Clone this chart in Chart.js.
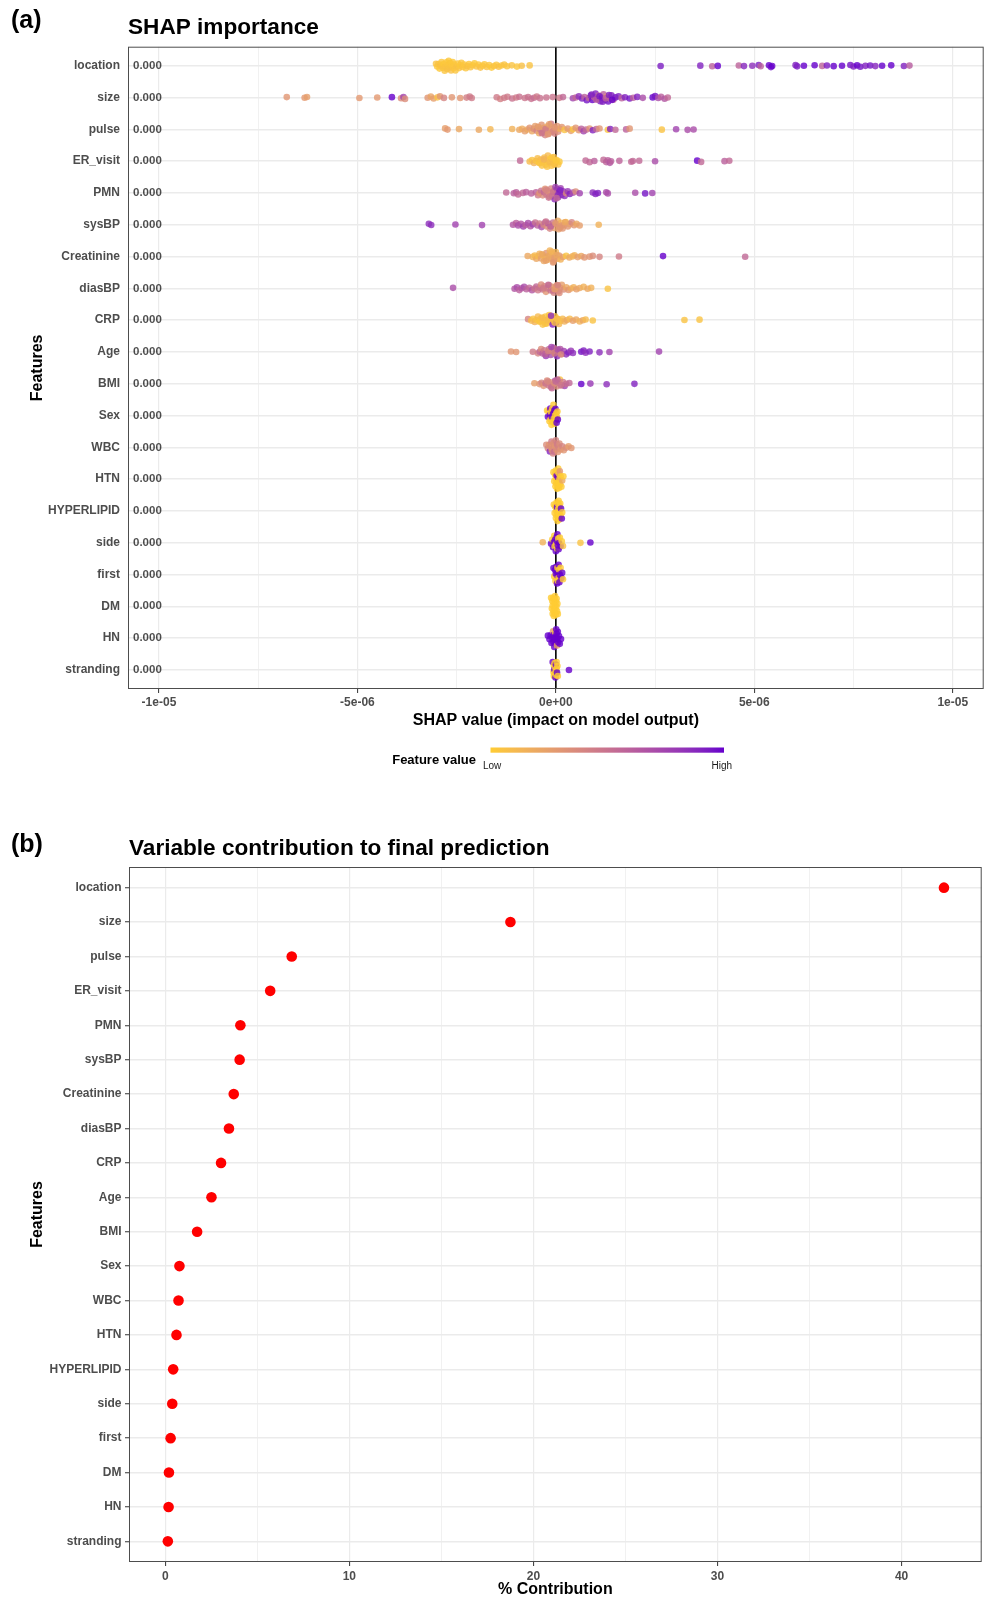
<!DOCTYPE html>
<html>
<head>
<meta charset="utf-8">
<title>SHAP importance and variable contribution</title>
<script src="https://cdn.jsdelivr.net/npm/chart.js@4.4.1/dist/chart.umd.min.js"></script>
<style>
  html, body { margin: 0; padding: 0; background: #fff; }
  body { width: 987px; height: 1599px; position: relative; overflow: hidden; }
  canvas { position: absolute; left: 0; }
  #shapChart { top: 0; }
  #contribChart { top: 790px; }
</style>
</head>
<body>
<canvas id="shapChart" width="987" height="790"></canvas>
<canvas id="contribChart" width="987" height="809"></canvas>
<script>
// features, top to bottom
var features = ['location', 'size', 'pulse', 'ER_visit', 'PMN', 'sysBP', 'Creatinine', 'diasBP', 'CRP', 'Age',
    'BMI', 'Sex', 'WBC', 'HTN', 'HYPERLIPID', 'side', 'first', 'DM', 'HN', 'stranding'];
var meanShapLabels = ['0.000', '0.000', '0.000', '0.000', '0.000', '0.000', '0.000', '0.000', '0.000', '0.000',
    '0.000', '0.000', '0.000', '0.000', '0.000', '0.000', '0.000', '0.000', '0.000', '0.000'];

// SHAP points per feature: [shap value in units of 1e-6, scaled feature value 0 = low .. 1 = high]
var pts_location = [[-3.02,0.05],[-2.99,0.03],[-2.96,0.05],[-2.93,0.02],[-2.9,0.06],[-2.88,0.03],[-2.85,0.05],[-2.83,0.02],
    [-2.8,0.04],[-2.78,0.05],[-2.76,0.03],[-2.74,0.06],[-2.72,0.04],[-2.7,0.02],[-2.68,0.05],[-2.66,0.03],[-2.64,0.06],
    [-2.62,0.04],[-2.6,0.02],[-2.58,0.05],[-2.56,0.03],[-2.53,0.04],[-2.5,0.06],[-2.47,0.03],[-2.44,0.05],[-2.41,0.02],
    [-2.38,0.04],[-2.35,0.05],[-2.31,0.03],[-2.27,0.04],[-2.23,0.06],[-2.19,0.03],[-2.15,0.05],[-2.1,0.04],[-2.05,0.02],
    [-2.0,0.05],[-1.95,0.03],[-1.9,0.06],[-1.85,0.04],[-1.8,0.03],[-1.74,0.05],[-1.68,0.04],[-1.62,0.02],[-1.56,0.05],
    [-1.5,0.03],[-1.44,0.06],[-1.37,0.04],[-1.3,0.05],[-1.23,0.04],[-1.11,0.05],[-0.98,0.03],[-0.86,0.06],[-0.66,0.05],
    [2.64,0.92],[3.64,0.9],[3.94,0.6],[4.08,1.0],[4.61,0.58],[4.74,0.88],[4.95,0.85],[5.11,0.92],[5.16,0.6],[5.37,1.0],
    [5.42,0.97],[5.45,1.0],[6.04,0.9],[6.08,0.92],[6.25,1.0],[6.52,1.0],[6.71,0.58],[6.83,0.92],[7.0,1.0],[7.21,1.0],
    [7.42,0.95],[7.5,0.9],[7.59,1.0],[7.67,0.95],[7.8,0.9],[7.92,0.95],[8.05,0.88],[8.22,1.0],[8.45,1.0],[8.77,0.9],[8.91,0.62]];
var pts_size = [[-6.78,0.3],[-6.33,0.28],[-6.27,0.25],[-4.95,0.28],[-4.5,0.28],[-4.13,1.0],[-3.9,0.35],[-3.84,0.75],
    [-3.8,0.35],[-3.23,0.3],[-3.15,0.22],[-3.08,0.25],[-2.98,0.05],[-2.92,0.3],[-2.82,0.4],[-2.62,0.3],[-2.41,0.3],
    [-2.25,0.42],[-2.17,0.45],[-2.12,0.45],[-1.49,0.45],[-1.4,0.42],[-1.3,0.45],[-1.22,0.45],[-1.1,0.5],[-1.0,0.45],
    [-0.92,0.5],[-0.78,0.48],[-0.7,0.5],[-0.62,0.5],[-0.55,0.52],[-0.48,0.45],[-0.4,0.5],[-0.24,0.5],[-0.08,0.48],
    [0.09,0.45],[0.18,0.55],[0.43,0.75],[0.5,0.55],[0.58,0.85],[0.66,0.9],[0.72,0.6],[0.78,0.95],[0.83,0.55],[0.88,0.9],
    [0.92,1.0],[0.96,0.6],[1.0,0.9],[1.04,0.95],[1.08,0.55],[1.12,0.9],[1.16,1.0],[1.2,0.6],[1.24,0.9],[1.28,0.3],
    [1.32,0.95],[1.36,0.6],[1.4,0.9],[1.45,0.55],[1.5,0.95],[1.58,0.9],[1.66,0.6],[1.74,0.9],[1.86,0.95],[1.95,0.6],
    [2.05,0.9],[2.19,0.7],[2.44,1.0],[2.5,0.95],[2.58,0.7],[2.65,0.6],[2.74,0.65],[2.82,0.55],
    [0.9,0.9],[1.02,0.6],[1.1,0.95],[1.18,0.9],[1.26,0.6],[1.34,0.9],[1.42,1.0]];
var pts_pulse = [[-2.79,0.25],[-2.73,0.28],[-2.44,0.2],[-1.94,0.2],[-1.65,0.12],[-1.1,0.15],[-0.92,0.2],[-0.85,0.18],
    [-0.78,0.25],[-0.72,0.2],[-0.66,0.3],[-0.6,0.2],[-0.56,0.35],[-0.52,0.25],[-0.48,0.4],[-0.45,0.3],[-0.42,0.2],
    [-0.39,0.45],[-0.36,0.3],[-0.33,0.35],[-0.3,0.25],[-0.27,0.4],[-0.24,0.3],[-0.21,0.2],[-0.18,0.35],[-0.15,0.3],
    [-0.12,0.45],[-0.09,0.25],[-0.06,0.3],[-0.03,0.4],[0.0,0.2],[0.03,0.3],[0.06,0.35],[0.1,0.15],[0.15,0.3],[0.22,0.05],
    [0.3,0.3],[0.38,0.25],[0.43,0.05],[0.5,0.3],[0.58,0.3],[0.64,0.6],[0.7,0.75],[0.76,0.55],[0.85,0.3],[0.93,0.9],
    [1.02,0.55],[1.1,0.3],[1.31,0.05],[1.37,0.9],[1.5,0.55],[1.77,0.6],[1.86,0.3],[2.67,0.05],[3.03,0.75],[3.32,0.7],[3.47,0.7],
    [-0.44,0.25],[-0.35,0.5],[-0.26,0.45],[-0.17,0.25],[-0.08,0.4],[-0.02,0.3],[-0.2,0.3]];
var pts_ER_visit = [[-0.9,0.55],[-0.66,0.1],[-0.6,0.05],[-0.55,0.15],[-0.5,0.05],[-0.46,0.08],[-0.42,0.02],[-0.38,0.1],
    [-0.35,0.05],[-0.32,0.03],[-0.29,0.08],[-0.26,0.05],[-0.23,0.02],[-0.2,0.1],[-0.17,0.05],[-0.14,0.03],[-0.11,0.06],
    [-0.08,0.02],[-0.05,0.08],[-0.02,0.05],[0.02,0.03],[0.06,0.06],[0.09,0.02],[0.75,0.55],[0.85,0.55],[0.97,0.6],
    [1.2,0.55],[1.27,0.58],[1.31,0.6],[1.36,0.65],[1.39,0.6],[1.6,0.58],[1.9,0.55],[1.94,0.55],[2.1,0.55],[2.5,0.7],
    [3.56,1.0],[3.66,0.55],[4.25,0.6],[4.37,0.55],
    [-0.4,0.05],[-0.3,0.15],[-0.22,0.05],[-0.15,0.1],[-0.1,0.04],[-0.04,0.06],[0.0,0.03]];
var pts_PMN = [[-1.25,0.55],[-1.06,0.6],[-1.0,0.6],[-0.95,0.55],[-0.83,0.55],[-0.75,0.6],[-0.62,0.6],[-0.5,0.6],
    [-0.45,0.45],[-0.41,0.3],[-0.37,0.5],[-0.33,0.35],[-0.3,0.55],[-0.27,0.3],[-0.24,0.45],[-0.21,0.35],[-0.18,0.5],
    [-0.15,0.3],[-0.12,0.4],[-0.09,0.6],[-0.06,0.35],[-0.03,0.85],[0.0,0.45],[0.03,0.9],[0.06,0.8],[0.09,0.95],
    [0.12,0.75],[0.15,0.9],[0.18,0.8],[0.22,0.85],[0.26,0.35],[0.3,0.8],[0.35,0.9],[0.43,0.7],[0.5,0.35],[0.6,0.75],
    [0.93,0.85],[1.0,0.9],[1.06,0.9],[1.27,0.7],[1.31,0.7],[2.0,0.7],[2.25,0.95],[2.43,0.75],
    [-0.25,0.4],[-0.16,0.45],[-0.07,0.5],[-0.01,0.75],[0.05,0.85],[0.11,0.9],[0.02,0.55]];
var pts_sysBP = [[-3.2,0.85],[-3.14,0.85],[-2.53,0.75],[-1.86,0.75],[-1.08,0.65],[-1.0,0.6],[-0.95,0.7],[-0.88,0.65],
    [-0.82,0.75],[-0.76,0.6],[-0.7,0.7],[-0.64,0.65],[-0.58,0.75],[-0.52,0.5],[-0.46,0.6],[-0.41,0.45],[-0.36,0.7],
    [-0.31,0.4],[-0.27,0.55],[-0.23,0.35],[-0.19,0.65],[-0.15,0.4],[-0.11,0.3],[-0.07,0.5],[-0.03,0.25],[0.01,0.3],
    [0.05,0.2],[0.09,0.35],[0.13,0.15],[0.17,0.3],[0.21,0.25],[0.25,0.1],[0.3,0.3],[0.35,0.25],[0.4,0.4],[0.46,0.3],
    [0.52,0.2],[0.6,0.25],[1.08,0.15],
    [-0.25,0.5],[-0.13,0.6],[-0.01,0.3],[0.07,0.25],[0.15,0.3],[0.23,0.2],[0.11,0.3]];
var pts_Creatinine = [[-0.71,0.2],[-0.58,0.15],[-0.53,0.1],[-0.49,0.2],[-0.45,0.1],[-0.41,0.15],[-0.37,0.25],[-0.33,0.1],
    [-0.3,0.2],[-0.27,0.15],[-0.24,0.3],[-0.21,0.1],[-0.18,0.2],[-0.15,0.15],[-0.12,0.25],[-0.09,0.1],[-0.06,0.2],
    [-0.03,0.3],[0.0,0.15],[0.04,0.2],[0.08,0.3],[0.12,0.15],[0.18,0.25],[0.26,0.05],[0.34,0.2],[0.42,0.15],[0.47,0.15],
    [0.55,0.25],[0.64,0.2],[0.72,0.3],[0.85,0.3],[0.93,0.35],[1.1,0.4],[1.59,0.45],[2.7,1.0],[4.77,0.55],
    [-0.35,0.2],[-0.25,0.25],[-0.16,0.2],[-0.1,0.15],[-0.04,0.25],[0.02,0.2],[-0.07,0.3]];
var pts_diasBP = [[-2.59,0.7],[-1.04,0.65],[-0.98,0.7],[-0.92,0.6],[-0.86,0.65],[-0.8,0.7],[-0.74,0.6],[-0.67,0.55],
    [-0.6,0.65],[-0.54,0.5],[-0.49,0.55],[-0.45,0.45],[-0.41,0.5],[-0.37,0.35],[-0.33,0.5],[-0.29,0.4],[-0.25,0.3],
    [-0.21,0.45],[-0.17,0.35],[-0.13,0.5],[-0.09,0.3],[-0.05,0.4],[-0.01,0.35],[0.03,0.3],[0.07,0.45],[0.11,0.3],
    [0.15,0.25],[0.2,0.35],[0.26,0.2],[0.32,0.3],[0.38,0.2],[0.45,0.15],[0.52,0.25],[0.6,0.2],[0.7,0.15],[0.8,0.2],
    [0.89,0.15],[1.31,0.05],
    [-0.31,0.45],[-0.19,0.55],[-0.07,0.5],[0.01,0.3],[0.09,0.35],[-0.03,0.25],[0.05,0.4]];
var pts_CRP = [[-0.7,0.4],[-0.62,0.1],[-0.57,0.05],[-0.53,0.15],[-0.49,0.05],[-0.45,0.1],[-0.41,0.02],[-0.37,0.08],
    [-0.33,0.05],[-0.29,0.12],[-0.26,0.03],[-0.23,0.06],[-0.2,0.1],[-0.17,0.04],[-0.14,0.08],[-0.11,0.05],[-0.08,0.9],
    [-0.05,0.1],[-0.02,0.05],[0.01,0.95],[0.04,0.08],[0.08,0.12],[0.12,0.05],[0.17,0.1],[0.22,0.15],[0.28,0.2],[0.35,0.1],
    [0.43,0.25],[0.51,0.2],[0.6,0.15],[0.68,0.2],[0.75,0.1],[0.93,0.05],[3.24,0.05],[3.62,0.05],
    [-0.4,0.05],[-0.34,0.1],[-0.27,0.05],[-0.21,0.08],[-0.12,0.85],[-0.03,0.05],[0.03,0.08]];
var pts_Age = [[-1.13,0.3],[-1.0,0.3],[-0.58,0.45],[-0.45,0.4],[-0.41,0.55],[-0.37,0.35],[-0.33,0.6],[-0.29,0.45],
    [-0.25,0.8],[-0.21,0.35],[-0.17,0.55],[-0.13,0.7],[-0.09,0.4],[-0.05,0.6],[-0.02,0.05],[-0.01,0.3],[0.03,0.85],
    [0.07,0.5],[0.11,0.65],[0.15,0.3],[0.2,0.75],[0.26,0.85],[0.32,0.9],[0.38,0.8],[0.43,0.85],[0.64,0.95],[0.7,0.9],
    [0.75,0.85],[0.85,0.9],[1.1,0.85],[1.35,0.75],[2.6,0.75],
    [-0.27,0.6],[-0.19,0.4],[-0.11,0.75],[-0.03,0.5],[0.05,0.7],[0.13,0.4]];
var pts_BMI = [[-0.54,0.25],[-0.41,0.3],[-0.36,0.4],[-0.31,0.3],[-0.26,0.5],[-0.22,0.35],[-0.18,0.45],[-0.14,0.3],
    [-0.1,0.55],[-0.06,0.4],[-0.02,0.65],[0.02,0.35],[0.06,0.5],[0.1,0.05],[0.14,0.6],[0.18,0.45],[0.22,0.75],[0.26,0.5],
    [0.34,0.55],[0.64,1.0],[0.87,0.8],[1.28,0.85],[1.98,0.9],
    [-0.2,0.4],[-0.12,0.5],[-0.04,0.35],[0.04,0.6],[0.12,0.45],[0.0,0.55]];
var pts_Sex = [[-0.22,0],[-0.2,1],[-0.18,0],[-0.16,0],[-0.15,1],[-0.14,1],[-0.13,0],[-0.12,0],[-0.11,0],[-0.1,1],
    [-0.09,0],[-0.08,0],[-0.07,1],[-0.06,0],[-0.05,0],[-0.04,1],[-0.03,0],[-0.02,0],[-0.01,1],[0.0,0],[0.01,0],[0.02,1],
    [0.03,0],[0.04,0],[0.05,1]];
var pts_WBC = [[-0.24,0.35],[-0.2,0.4],[-0.17,0.3],[-0.15,0.9],[-0.13,0.35],[-0.11,0.45],[-0.1,0.3],[-0.09,0.3],
    [-0.07,0.4],[-0.06,0.35],[-0.05,0.35],[-0.04,0.5],[-0.02,0.3],[0.0,0.4],[0.01,0.35],[0.03,0.45],[0.05,0.3],[0.07,0.4],
    [0.09,0.35],[0.12,0.3],[0.16,0.4],[0.2,0.3],[0.26,0.35],[0.32,0.25],[0.39,0.3]];
var pts_HTN = [[-0.06,0],[-0.04,0],[-0.02,0],[-0.01,0],[0.0,0],[0.0,0],[0.01,0],[0.02,1],[0.03,0],[0.03,0],[0.04,0],
    [0.05,0],[0.05,1],[0.06,0],[0.07,0],[0.08,0],[0.08,0],[0.09,0],[0.1,0.3],[0.11,0],[0.12,0],[0.14,0],[0.16,0.2],[0.19,0]];
var pts_HYPERLIPID = [[-0.05,0],[-0.03,0],[-0.02,0],[0.0,0],[0.01,0],[0.02,0],[0.02,0],[0.03,1],[0.04,0],[0.04,0],
    [0.05,0],[0.06,0],[0.06,0],[0.07,0],[0.08,0],[0.09,0],[0.09,0],[0.1,0],[0.11,0],[0.12,0],[0.13,1],[0.15,1],[0.16,0]];
var pts_side = [[-0.33,0.15],[-0.12,1],[-0.09,0],[-0.07,1],[-0.05,1],[-0.04,0],[-0.03,0],[-0.02,1],[0.0,1],[0.01,0],
    [0.02,1],[0.03,0],[0.03,1],[0.04,1],[0.05,1],[0.06,0],[0.07,1],[0.08,1],[0.1,0],[0.12,1],[0.15,0],[0.18,0.05],
    [0.62,0.05],[0.87,1]];
var pts_first = [[-0.06,1],[-0.04,0],[-0.02,1],[-0.01,0],[0.0,1],[0.01,1],[0.02,0],[0.02,1],[0.03,1],[0.04,1],[0.04,0],
    [0.05,0],[0.06,1],[0.07,1],[0.07,0],[0.08,0],[0.09,1],[0.1,1],[0.12,0],[0.14,1],[0.16,1],[0.18,0]];
var pts_DM = [[-0.12,0],[-0.1,0],[-0.09,0],[-0.08,0],[-0.08,0],[-0.07,0],[-0.06,0],[-0.06,0],[-0.05,0],[-0.04,0],
    [-0.04,0],[-0.03,0],[-0.02,0],[-0.02,0],[-0.01,0],[0.0,0],[0.0,0],[0.01,0],[0.02,0],[0.03,0],[0.04,0],[0.05,0]];
var pts_HN = [[-0.2,1],[-0.16,1],[-0.13,1],[-0.11,1],[-0.09,1],[-0.07,0.3],[-0.06,1],[-0.05,1],[-0.04,1],[-0.03,1],
    [-0.02,0.05],[-0.01,1],[0.0,1],[0.01,1],[0.02,1],[0.02,1],[0.03,0.2],[0.04,1],[0.05,1],[0.06,1],[0.08,1],[0.1,1],[0.13,1]];
var pts_stranding = [[-0.08,1],[-0.06,0],[-0.05,0],[-0.05,0],[-0.04,1],[-0.03,0],[-0.03,0],[-0.02,0],[-0.01,1],[0.0,0],
    [0.0,1],[0.01,0],[0.02,0],[0.02,0],[0.03,1],[0.04,0],[0.05,0],[0.33,1]];

var shapRows = [pts_location, pts_size, pts_pulse, pts_ER_visit, pts_PMN, pts_sysBP, pts_Creatinine, pts_diasBP,
    pts_CRP, pts_Age, pts_BMI, pts_Sex, pts_WBC, pts_HTN, pts_HYPERLIPID, pts_side, pts_first, pts_DM, pts_HN, pts_stranding];

// x axis of panel (a), same 1e-6 units
var shapGrid = [-10, -7.5, -5, -2.5, 0, 2.5, 5, 7.5, 10];
var shapTicks = [-10, -5, 0, 5, 10];
var shapTickLabels = ['-1e-05', '-5e-06', '0e+00', '5e-06', '1e-05'];

// panel (b): % contribution, same feature order
var contribution = [42.3, 18.75, 6.87, 5.7, 4.08, 4.04, 3.72, 3.46, 3.03, 2.51, 1.73, 0.77, 0.72, 0.61, 0.43, 0.38, 0.29, 0.2, 0.18, 0.14];
var contribGrid = [0, 5, 10, 15, 20, 25, 30, 35, 40];
var contribTicks = [0, 10, 20, 30, 40];

var FONT = '"Liberation Sans", Arial, Helvetica, sans-serif';
Chart.defaults.font.family = FONT;

/* colour ramp low -> high, interpolated in CIELAB like ggplot's gradient */
function toLinear(c){ c /= 255; return c <= 0.04045 ? c / 12.92 : Math.pow((c + 0.055) / 1.055, 2.4); }
function fromLinear(c){ var v = c <= 0.0031308 ? 12.92 * c : 1.055 * Math.pow(c, 1 / 2.4) - 0.055; return Math.round(Math.max(0, Math.min(1, v)) * 255); }
function rgbToLab(rgb){
    var R = toLinear(rgb[0]), G = toLinear(rgb[1]), B = toLinear(rgb[2]);
    var x = (R * 0.4124 + G * 0.3576 + B * 0.1805) / 0.95047;
    var y = R * 0.2126 + G * 0.7152 + B * 0.0722;
    var z = (R * 0.0193 + G * 0.1192 + B * 0.9505) / 1.08883;
    var f = function(t){ return t > 0.008856 ? Math.cbrt(t) : 7.787 * t + 16 / 116; };
    return [116 * f(y) - 16, 500 * (f(x) - f(y)), 200 * (f(y) - f(z))];
}
function labToRgb(lab){
    var fy = (lab[0] + 16) / 116, fx = fy + lab[1] / 500, fz = fy - lab[2] / 200;
    var inv = function(t){ return t * t * t > 0.008856 ? t * t * t : (t - 16 / 116) / 7.787; };
    var x = inv(fx) * 0.95047, y = inv(fy), z = inv(fz) * 1.08883;
    return [fromLinear(3.2406 * x - 1.5372 * y - 0.4986 * z),
            fromLinear(-0.9689 * x + 1.8758 * y + 0.0415 * z),
            fromLinear(0.0557 * x - 0.2040 * y + 1.0570 * z)];
}
var labLow = rgbToLab([255, 204, 51]);   // #FFCC33
var labHigh = rgbToLab([102, 0, 204]);   // #6600CC
function featureColour(t, alpha){
    var lab = [0, 1, 2].map(function(k){ return labLow[k] + (labHigh[k] - labLow[k]) * t; });
    var c = labToRgb(lab);
    return 'rgba(' + c[0] + ',' + c[1] + ',' + c[2] + ',' + alpha + ')';
}

// sina style spread: how far a point may leave its row depends on how crowded its neighbourhood is
function sinaLayout(rows){
    var counts = rows.map(function(pts){
        return pts.map(function(p){ return pts.filter(function(q){ return Math.abs(q[0] - p[0]) <= 0.12; }).length; });
    });
    var maxCount = Math.max.apply(null, counts.map(function(c){ return Math.max.apply(null, c); }));
    var out = [];
    rows.forEach(function(pts, r){
        pts.forEach(function(p, j){
            var half = 0.36 * counts[r][j] / maxCount;
            var spread = ((j * 0.6180339887) % 1) * 2 - 1;
            out.push({x: p[0], y: r + half * spread, c: p[1]});
        });
    });
    return out;
}

// "(a)" / "(b)" tags and the panel titles
var panelText = {
    id: 'panelText',
    afterDraw: function(chart, args, opts){
        var ctx = chart.ctx;
        ctx.save();
        ctx.fillStyle = '#000';
        ctx.textBaseline = 'alphabetic';
        ctx.textAlign = 'left';
        ctx.font = 'bold 25px ' + FONT;
        ctx.fillText(opts.tag, 11, opts.tagY);
        ctx.font = 'bold 22.6px ' + FONT;
        ctx.fillText(opts.title, chart.chartArea.left, opts.titleY);
        ctx.restore();
    }
};

// full panel border (theme_bw)
var panelBorder = {
    id: 'panelBorder',
    afterDatasetsDraw: function(chart){
        var a = chart.chartArea, ctx = chart.ctx;
        ctx.save();
        ctx.strokeStyle = '#4d4d4d';
        ctx.lineWidth = 1;
        ctx.strokeRect(a.left + 0.5, a.top + 0.5, a.right - a.left - 1, a.bottom - a.top - 1);
        ctx.restore();
    }
};

var meanLabelsPlugin = {
    id: 'meanLabels',
    afterDatasetsDraw: function(chart){
        var ctx = chart.ctx, y = chart.scales.y;
        ctx.save();
        ctx.font = 'bold 11.5px ' + FONT;
        ctx.fillStyle = 'rgba(0,0,0,0.7)';
        ctx.textAlign = 'left';
        ctx.textBaseline = 'middle';
        meanShapLabels.forEach(function(t, i){
            ctx.fillText(t, chart.chartArea.left + 5, y.getPixelForValue(i));
        });
        ctx.restore();
    }
};

var colourLegend = {
    id: 'colourLegend',
    afterDraw: function(chart){
        var ctx = chart.ctx;
        var x0 = 490.5, x1 = 724, top = 747.5, h = 5.2;
        ctx.save();
        var g = ctx.createLinearGradient(x0, 0, x1, 0);
        for (var k = 0; k <= 20; k++) g.addColorStop(k / 20, featureColour(k / 20, 1));
        ctx.fillStyle = g;
        ctx.fillRect(x0, top, x1 - x0, h);
        ctx.fillStyle = '#000';
        ctx.font = 'bold 13px ' + FONT;
        ctx.textAlign = 'right';
        ctx.textBaseline = 'middle';
        ctx.fillText('Feature value', 476, 760);
        ctx.font = '10px ' + FONT;
        ctx.fillStyle = '#1a1a1a';
        ctx.textAlign = 'left';
        ctx.fillText('Low', 483, 766);
        ctx.textAlign = 'right';
        ctx.fillText('High', 732, 766);
        ctx.restore();
    }
};

Chart.register(panelText, panelBorder);

var axisTitleFont = {size: 16, weight: 'bold'};
var tickFont = {size: 12, weight: 'bold'};

/* panel (a): SHAP summary */
var shapCanvas = document.getElementById('shapChart');
if (shapCanvas) {
    new Chart(shapCanvas, {
        type: 'scatter',
        data: {
            datasets: [{
                data: sinaLayout(shapRows),
                backgroundColor: function(ctx){ return featureColour(ctx.raw ? ctx.raw.c : 0, 0.8); },
                pointRadius: 3.3,
                pointHoverRadius: 3.3,
                borderWidth: 0,
                order: 1
            }, {
                data: [{x: 0, y: -0.6}, {x: 0, y: 19.6}],
                showLine: true,
                borderColor: '#000',
                borderWidth: 1.6,
                pointRadius: 0,
                order: 2
            }]
        },
        options: {
            responsive: false,
            animation: false,
            devicePixelRatio: 1,
            layout: {padding: {top: 46.7, right: 2, bottom: 56, left: 0}},
            plugins: {
                legend: {display: false},
                tooltip: {enabled: false},
                panelText: {tag: '(a)', tagY: 28, title: 'SHAP importance', titleY: 33.5}
            },
            scales: {
                x: {
                    type: 'linear', min: -10.78, max: 10.78,
                    afterBuildTicks: function(s){ s.ticks = shapGrid.map(function(v){ return {value: v}; }); },
                    afterFit: function(s){ s.height = 45; },
                    grid: {
                        color: '#ebebeb',
                        lineWidth: function(c){ return shapTicks.indexOf(c.tick.value) >= 0 ? 1.2 : 0.7; },
                        drawTicks: true, tickLength: 4, tickWidth: 1,
                        tickColor: function(c){ return shapTicks.indexOf(c.tick.value) >= 0 ? '#333' : 'rgba(0,0,0,0)'; }
                    },
                    border: {display: false},
                    ticks: {
                        autoSkip: false, maxRotation: 0, padding: 2, color: '#4d4d4d', font: tickFont,
                        callback: function(v){ var i = shapTicks.indexOf(v); return i >= 0 ? shapTickLabels[i] : ''; }
                    },
                    title: {display: true, text: 'SHAP value (impact on model output)', color: '#000', font: axisTitleFont, padding: {top: 0, bottom: 4}}
                },
                y: {
                    type: 'linear', reverse: true, min: -0.6, max: 19.6,
                    afterBuildTicks: function(s){ s.ticks = features.map(function(f, i){ return {value: i}; }); },
                    afterFit: function(s){ s.width = 128; },
                    grid: {color: '#ebebeb', lineWidth: 1.5, drawTicks: false},
                    border: {display: false},
                    ticks: {
                        autoSkip: false, padding: 8, color: '#4d4d4d', font: tickFont,
                        callback: function(v){ return features[v]; }
                    },
                    title: {display: true, text: 'Features', color: '#000', font: axisTitleFont, padding: {top: 28, bottom: 0}}
                }
            }
        },
        plugins: [meanLabelsPlugin, colourLegend]
    });
}

/* panel (b): % contribution */
var contribCanvas = document.getElementById('contribChart');
if (contribCanvas) {
    new Chart(contribCanvas, {
        type: 'scatter',
        data: {
            datasets: [{
                data: features.map(function(f, i){ return {x: contribution[i], y: i}; }),
                backgroundColor: '#ff0000',
                pointRadius: 5.3,
                pointHoverRadius: 5.3,
                borderWidth: 0
            }]
        },
        options: {
            responsive: false,
            animation: false,
            devicePixelRatio: 1,
            layout: {padding: {top: 77, right: 2, bottom: 0, left: 0}},
            plugins: {
                legend: {display: false},
                tooltip: {enabled: false},
                panelText: {tag: '(b)', tagY: 62, title: 'Variable contribution to final prediction', titleY: 65}
            },
            scales: {
                x: {
                    type: 'linear', min: -1.97, max: 44.35,
                    afterBuildTicks: function(s){ s.ticks = contribGrid.map(function(v){ return {value: v}; }); },
                    afterFit: function(s){ s.height = 37; },
                    grid: {
                        color: '#ebebeb',
                        lineWidth: function(c){ return contribTicks.indexOf(c.tick.value) >= 0 ? 1.2 : 0.7; },
                        drawTicks: true, tickLength: 4, tickWidth: 1,
                        tickColor: function(c){ return contribTicks.indexOf(c.tick.value) >= 0 ? '#333' : 'rgba(0,0,0,0)'; }
                    },
                    border: {display: false},
                    ticks: {
                        autoSkip: false, maxRotation: 0, padding: 3, color: '#4d4d4d', font: tickFont,
                        callback: function(v){ return contribTicks.indexOf(v) >= 0 ? String(v) : ''; }
                    },
                    title: {display: true, text: '% Contribution', color: '#000', font: axisTitleFont, padding: {top: 0, bottom: 0}}
                },
                y: {
                    type: 'linear', reverse: true, min: -0.6, max: 19.6,
                    afterBuildTicks: function(s){ s.ticks = features.map(function(f, i){ return {value: i}; }); },
                    afterFit: function(s){ s.width = 129; },
                    grid: {color: '#ebebeb', lineWidth: 1.5, drawTicks: true, tickLength: 4, tickColor: '#333', tickWidth: 1},
                    border: {display: false},
                    ticks: {
                        autoSkip: false, padding: 3.5, color: '#4d4d4d', font: tickFont,
                        callback: function(v){ return features[v]; }
                    },
                    title: {display: true, text: 'Features', color: '#000', font: axisTitleFont, padding: {top: 28, bottom: 0}}
                }
            }
        }
    });
}
</script>
</body>
</html>
